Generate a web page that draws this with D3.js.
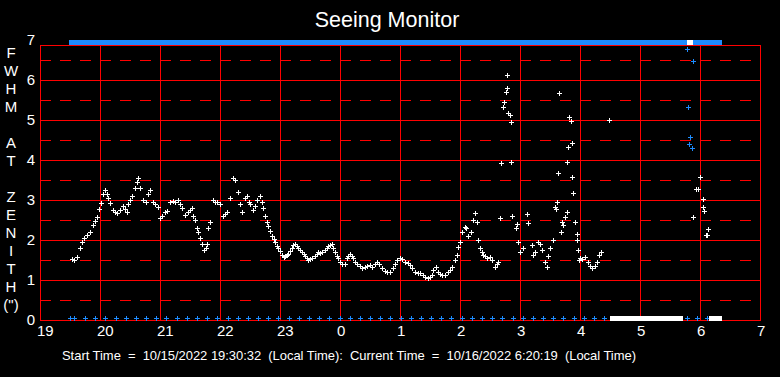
<!DOCTYPE html>
<html>
<head>
<meta charset="utf-8">
<script src="https://cdn.jsdelivr.net/npm/d3@7"></script>
<style>
  body { margin: 0; background: #000; }
  svg { display: block; font-family: "Liberation Sans", Arial, sans-serif; }
</style>
</head>
<body>
<div id="chart"></div>
<script>
// Tijd in minuten na 19:00, FWHM in boogseconden
const seeingMinutes = [
  32, 34, 37, 40, 42, 44, 47, 50, 53, 55, 57, 59, 61, 63, 65, 67, 68, 70, 73, 75,
  77, 80, 83, 85, 87, 88, 90, 92, 95, 97, 98, 100, 103, 106, 108, 110, 113, 115, 118, 120,
  122, 125, 127, 130, 133, 135, 138, 140, 142, 145, 148, 150, 152, 153, 155, 157, 158, 160, 162, 164,
  166, 167, 168, 170, 173, 175, 177, 180, 183, 185, 187, 190, 193, 195, 198, 200, 202, 205, 207, 209,
  210, 213, 215, 217, 220, 222, 223, 225, 227, 228, 230, 232, 234, 235, 237, 238, 240, 242, 244, 245,
  247, 248, 250, 252, 253, 255, 257, 258, 260, 262, 264, 265, 267, 268, 270, 272, 275, 277, 278, 280,
  282, 285, 287, 288, 290, 292, 293, 295, 297, 298, 300, 302, 305, 307, 308, 310, 312, 313, 315, 317,
  320, 322, 325, 327, 330, 332, 335, 337, 339, 342, 345, 347, 350, 353, 355, 357, 360, 362, 365, 368,
  370, 372, 375, 378, 380, 383, 385, 388, 390, 392, 393, 396, 398, 400, 402, 405, 408, 410, 412, 415,
  417, 418, 420, 422, 425, 426, 428, 431, 433, 435, 437, 438, 440, 442, 443, 445, 447, 450, 452, 455,
  457, 458, 460, 461, 463, 464, 466, 467, 467, 468, 470, 471, 471, 472, 476, 477, 478, 480, 483, 487,
  488, 492, 493, 495, 498, 500, 502, 505, 507, 508, 510, 513, 515, 516, 517, 518, 519, 521, 522, 523,
  525, 527, 527, 528, 529, 531, 532, 532, 533, 535, 537, 537, 538, 539, 540, 542, 545, 548, 550, 552,
  555, 557, 559, 561, 569,
  653, 656, 658, 660, 663, 663, 664, 666, 667, 668
];
const seeingValues = [
  1.52, 1.50, 1.57, 1.80, 1.95, 2.05, 2.12, 2.20, 2.38, 2.48, 2.58, 2.78, 2.92, 3.15, 3.25, 3.15, 3.05, 2.92, 2.75, 2.70,
  2.68, 2.75, 2.85, 2.78, 2.70, 2.90, 3.00, 3.10, 3.30, 3.45, 3.55, 3.30, 3.00, 2.95, 3.15, 3.25, 2.95, 2.90, 2.82, 2.55,
  2.60, 2.70, 2.72, 2.95, 2.98, 2.95, 3.00, 2.90, 2.80, 2.62, 2.70, 2.75, 2.80, 2.60, 2.50, 2.30, 2.20, 2.05, 1.90, 1.75,
  1.80, 1.90, 2.30, 2.45, 3.00, 2.95, 2.95, 2.90, 2.60, 2.65, 2.70, 3.05, 3.55, 3.50, 3.20, 2.90, 2.70, 3.05, 3.10, 2.95,
  2.90, 2.75, 2.85, 3.00, 3.10, 2.95, 2.80, 2.60, 2.45, 2.35, 2.22, 2.10, 2.02, 1.95, 1.85, 1.80, 1.72, 1.62, 1.58, 1.60,
  1.62, 1.65, 1.72, 1.80, 1.88, 1.90, 1.85, 1.80, 1.75, 1.70, 1.65, 1.60, 1.55, 1.50, 1.52, 1.55, 1.60, 1.65, 1.70, 1.68,
  1.70, 1.75, 1.80, 1.85, 1.88, 1.90, 1.80, 1.70, 1.60, 1.55, 1.45, 1.40, 1.40, 1.55, 1.60, 1.65, 1.60, 1.55, 1.45, 1.40,
  1.35, 1.30, 1.32, 1.35, 1.38, 1.33, 1.40, 1.45, 1.40, 1.30, 1.22, 1.20, 1.20, 1.30, 1.40, 1.50, 1.55, 1.52, 1.45, 1.43,
  1.38, 1.30, 1.20, 1.18, 1.17, 1.12, 1.08, 1.05, 1.08, 1.12, 1.25, 1.33, 1.20, 1.15, 1.12, 1.12, 1.20, 1.25, 1.33, 1.50,
  1.63, 1.83, 1.95, 2.20, 2.33, 2.30, 2.10, 2.20, 2.50, 2.67, 2.45, 2.00, 1.80, 1.70, 1.63, 1.60, 1.55, 1.58, 1.50, 1.33,
  1.40, 1.45, 2.55, 3.92, 5.33, 5.45, 5.70, 5.80, 6.12, 5.17, 5.12, 4.95, 3.95, 2.60, 2.30, 2.40, 1.95, 1.70, 1.80, 2.65,
  2.43, 1.87, 1.63, 1.70, 1.95, 1.90, 1.75, 1.45, 1.33, 1.60, 1.80, 2.00, 2.83, 2.78, 2.95, 3.67, 5.67, 2.20, 2.45, 2.37,
  2.58, 2.70, 3.95, 4.33, 5.08, 4.97, 4.42, 3.58, 3.17, 2.45, 2.15, 2.00, 1.75, 1.50, 1.55, 1.52, 1.58, 1.45, 1.35, 1.30,
  1.35, 1.45, 1.63, 1.70, 5.00,
  2.57, 3.27, 3.27, 3.57, 3.02, 2.83, 2.72, 2.12, 2.12, 2.27
];

// Blauwe meetpunten (tweede reeks)
const blueMinutes = [647, 653, 648, 650, 649, 652];
const blueValues = [6.78, 6.47, 5.33, 4.57, 4.40, 4.30];

// Markeringen op de onderrand (waarde 0)
const bottomBlueMinutes = [
  30, 34, 45, 55, 65, 76, 86, 96, 106, 116, 126, 137, 147, 157, 167, 177, 188, 198, 208, 218,
  228, 238, 249, 259, 269, 279, 289, 300, 310, 320, 330, 340, 350, 361, 371, 381, 391, 401, 411, 422,
  432, 442, 452, 462, 473, 483, 493, 503, 513, 523, 534, 544, 554, 564, 647, 657, 667
];
const bottomWhiteRanges = [[570, 643], [669, 682]];
// Markeringen op de bovenrand (waarde 7)
const topBlueRanges = [[29, 682]];
const topWhiteRanges = [[647, 653]];

const hourTicks = [0, 60, 120, 180, 240, 300, 360, 420, 480, 540, 600, 660, 720];
const hourLabels = ["19", "20", "21", "22", "23", "0", "1", "2", "3", "4", "5", "6", "7"];
const yTicks = [0, 1, 2, 3, 4, 5, 6, 7];
const halfTicks = [0.5, 1.5, 2.5, 3.5, 4.5, 5.5, 6.5];
const yTitle = ["F", "W", "H", "M", "", "A", "T", "", "Z", "E", "N", "I", "T", "H", "(\")"];

const width = 780;
const height = 377;
const red = "#ff0000";
const blue = "#1e8cff";

const svg = d3.select("#chart")
  .append("svg")
  .attr("width", width)
  .attr("height", height);

svg.append("rect").attr("width", width).attr("height", height).attr("fill", "#000");

// Schalen
const x = d3.scaleLinear().domain([0, 720]).range([40, 760]);
const y = d3.scaleLinear().domain([0, 7]).range([320, 40]);
const plotTop = y(6.875);

// Raster
const grid = svg.append("g").attr("shape-rendering", "crispEdges");

grid.selectAll(".half")
  .data(halfTicks)
  .enter()
  .append("line")
  .attr("x1", x(0)).attr("x2", x(720))
  .attr("y1", d => Math.round(y(d)) + 0.5).attr("y2", d => Math.round(y(d)) + 0.5)
  .attr("stroke", red)
  .attr("stroke-width", 1)
  .attr("stroke-dasharray", "11,9");

grid.selectAll(".hline")
  .data(yTicks.filter(d => d > 0 && d < 7))
  .enter()
  .append("line")
  .attr("x1", x(0)).attr("x2", x(720))
  .attr("y1", d => Math.round(y(d)) + 0.5).attr("y2", d => Math.round(y(d)) + 0.5)
  .attr("stroke", red);

grid.selectAll(".vline")
  .data(hourTicks.slice(1, -1))
  .enter()
  .append("line")
  .attr("x1", d => Math.round(x(d)) + 0.5).attr("x2", d => Math.round(x(d)) + 0.5)
  .attr("y1", plotTop).attr("y2", y(0))
  .attr("stroke", red);

grid.append("rect")
  .attr("x", x(0) + 0.5).attr("y", plotTop + 0.5)
  .attr("width", x(720) - x(0)).attr("height", y(0) - plotTop)
  .attr("fill", "none")
  .attr("stroke", red);

// As-labels
svg.append("g")
  .selectAll("text")
  .data(yTicks)
  .enter()
  .append("text")
  .attr("x", 35)
  .attr("y", d => y(d) + 5)
  .attr("text-anchor", "end")
  .attr("fill", "#fff")
  .attr("font-size", 15)
  .text(d => d);

svg.append("g")
  .selectAll("text")
  .data(hourTicks)
  .enter()
  .append("text")
  .attr("x", d => x(d) - 3)
  .attr("y", 336)
  .attr("fill", "#fff")
  .attr("font-size", 15)
  .text((d, i) => hourLabels[i]);

svg.append("g")
  .selectAll("text")
  .data(yTitle)
  .enter()
  .append("text")
  .attr("x", 11)
  .attr("y", (d, i) => 58 + i * 18)
  .attr("text-anchor", "middle")
  .attr("fill", "#fff")
  .attr("font-size", 15)
  .text(d => d);

svg.append("text")
  .attr("x", 387)
  .attr("y", 27)
  .attr("text-anchor", "middle")
  .attr("fill", "#fff")
  .attr("font-size", 21.5)
  .text("Seeing Monitor");

svg.append("text")
  .attr("x", 62)
  .attr("y", 360)
  .attr("fill", "#fff")
  .attr("font-size", 13)
  .attr("textLength", 574)
  .attr("lengthAdjust", "spacing")
  .style("white-space", "pre")
  .text("Start Time  =  10/15/2022 19:30:32  (Local Time):  Current Time  =  10/16/2022 6:20:19  (Local Time)");

// Plusteken als markering
const plus = "M-2,0.5H3M0.5,-2V3";

function drawPluses(xs, ys, color) {
  svg.append("g")
    .attr("shape-rendering", "crispEdges")
    .selectAll("path")
    .data(xs)
    .enter()
    .append("path")
    .attr("transform", (d, i) => `translate(${Math.round(x(d))},${Math.round(ys[i])})`)
    .attr("d", plus)
    .attr("stroke", color)
    .attr("fill", "none");
}

function drawBands(ranges, cy, color) {
  svg.append("g")
    .selectAll("rect")
    .data(ranges)
    .enter()
    .append("rect")
    .attr("x", d => x(d[0]))
    .attr("y", cy - 2)
    .attr("width", d => x(d[1]) - x(d[0]))
    .attr("height", 5)
    .attr("fill", color);
}

// Boven- en onderrand
drawBands(topBlueRanges, y(7) + 2, blue);
drawBands(topWhiteRanges, y(7) + 2, "#fff");
drawPluses(bottomBlueMinutes, bottomBlueMinutes.map(() => y(0) - 2), blue);
drawBands(bottomWhiteRanges, y(0) - 2, "#fff");

// Meetpunten
drawPluses(seeingMinutes, seeingValues.map(v => y(v)), "#fff");
drawPluses(blueMinutes, blueValues.map(v => y(v)), blue);
</script>
</body>
</html>
